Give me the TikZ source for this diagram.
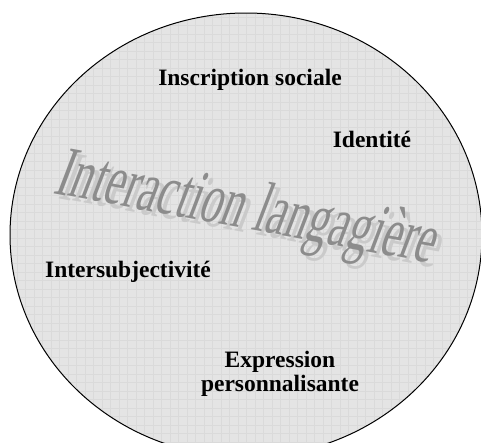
\documentclass[tikz,border=0pt]{standalone}
\usepackage{fontspec}
\setmainfont{Liberation Serif}
\usepackage{xcolor}
\usepackage{tikz}

\definecolor{discfill}{HTML}{E4E4E4}
\definecolor{gridline}{HTML}{DADADA}
\definecolor{wordart}{HTML}{8C8C8C}
\definecolor{wordshadow}{HTML}{CACACA}

\tikzset{
  theme/.style={font=\fontsize{23.5}{26}\selectfont\bfseries, align=center, inner sep=1pt},
  wordartstyle/.style={font=\fontsize{72}{72}\selectfont, rotate=-10.5, xscale=0.61, xslant=0.3, anchor=base, inner sep=0pt}
}

\begin{document}
\begin{tikzpicture}[x=1pt, y=1pt]
\useasboundingbox (0,0) rectangle (481,-442);
%%%%% Disc %%%%%
\begin{scope}
\clip (0,0) rectangle (481,-442);
\fill[discfill] (246,-235) ellipse [x radius=236, y radius=222];
\begin{scope}
\clip (246,-235) ellipse [x radius=236, y radius=222];
\draw[gridline, line width=0.3pt, step=8.5] (0,-442) grid (481,0);
\end{scope}
\draw[line width=1pt] (246,-235) ellipse [x radius=236, y radius=222];
\end{scope}
%%%%% Title %%%%%
\node[wordartstyle, text=wordshadow] (titleshadow) at (246,-233) {Interaction langagière};
\node[wordartstyle, text=wordart] (title) at (241,-228) {Interaction langagière};
%%%%% Themes %%%%%
\node[theme] (inscription) at (250,-80) {Inscription sociale};
\node[theme] (identite) at (372,-139) {Identité};
\node[theme] (intersubj) at (128,-272) {Intersubjectivité};
\node[theme] (expression) at (280,-374) {Expression\\[-2pt]personnalisante};
\end{tikzpicture}
\end{document}
